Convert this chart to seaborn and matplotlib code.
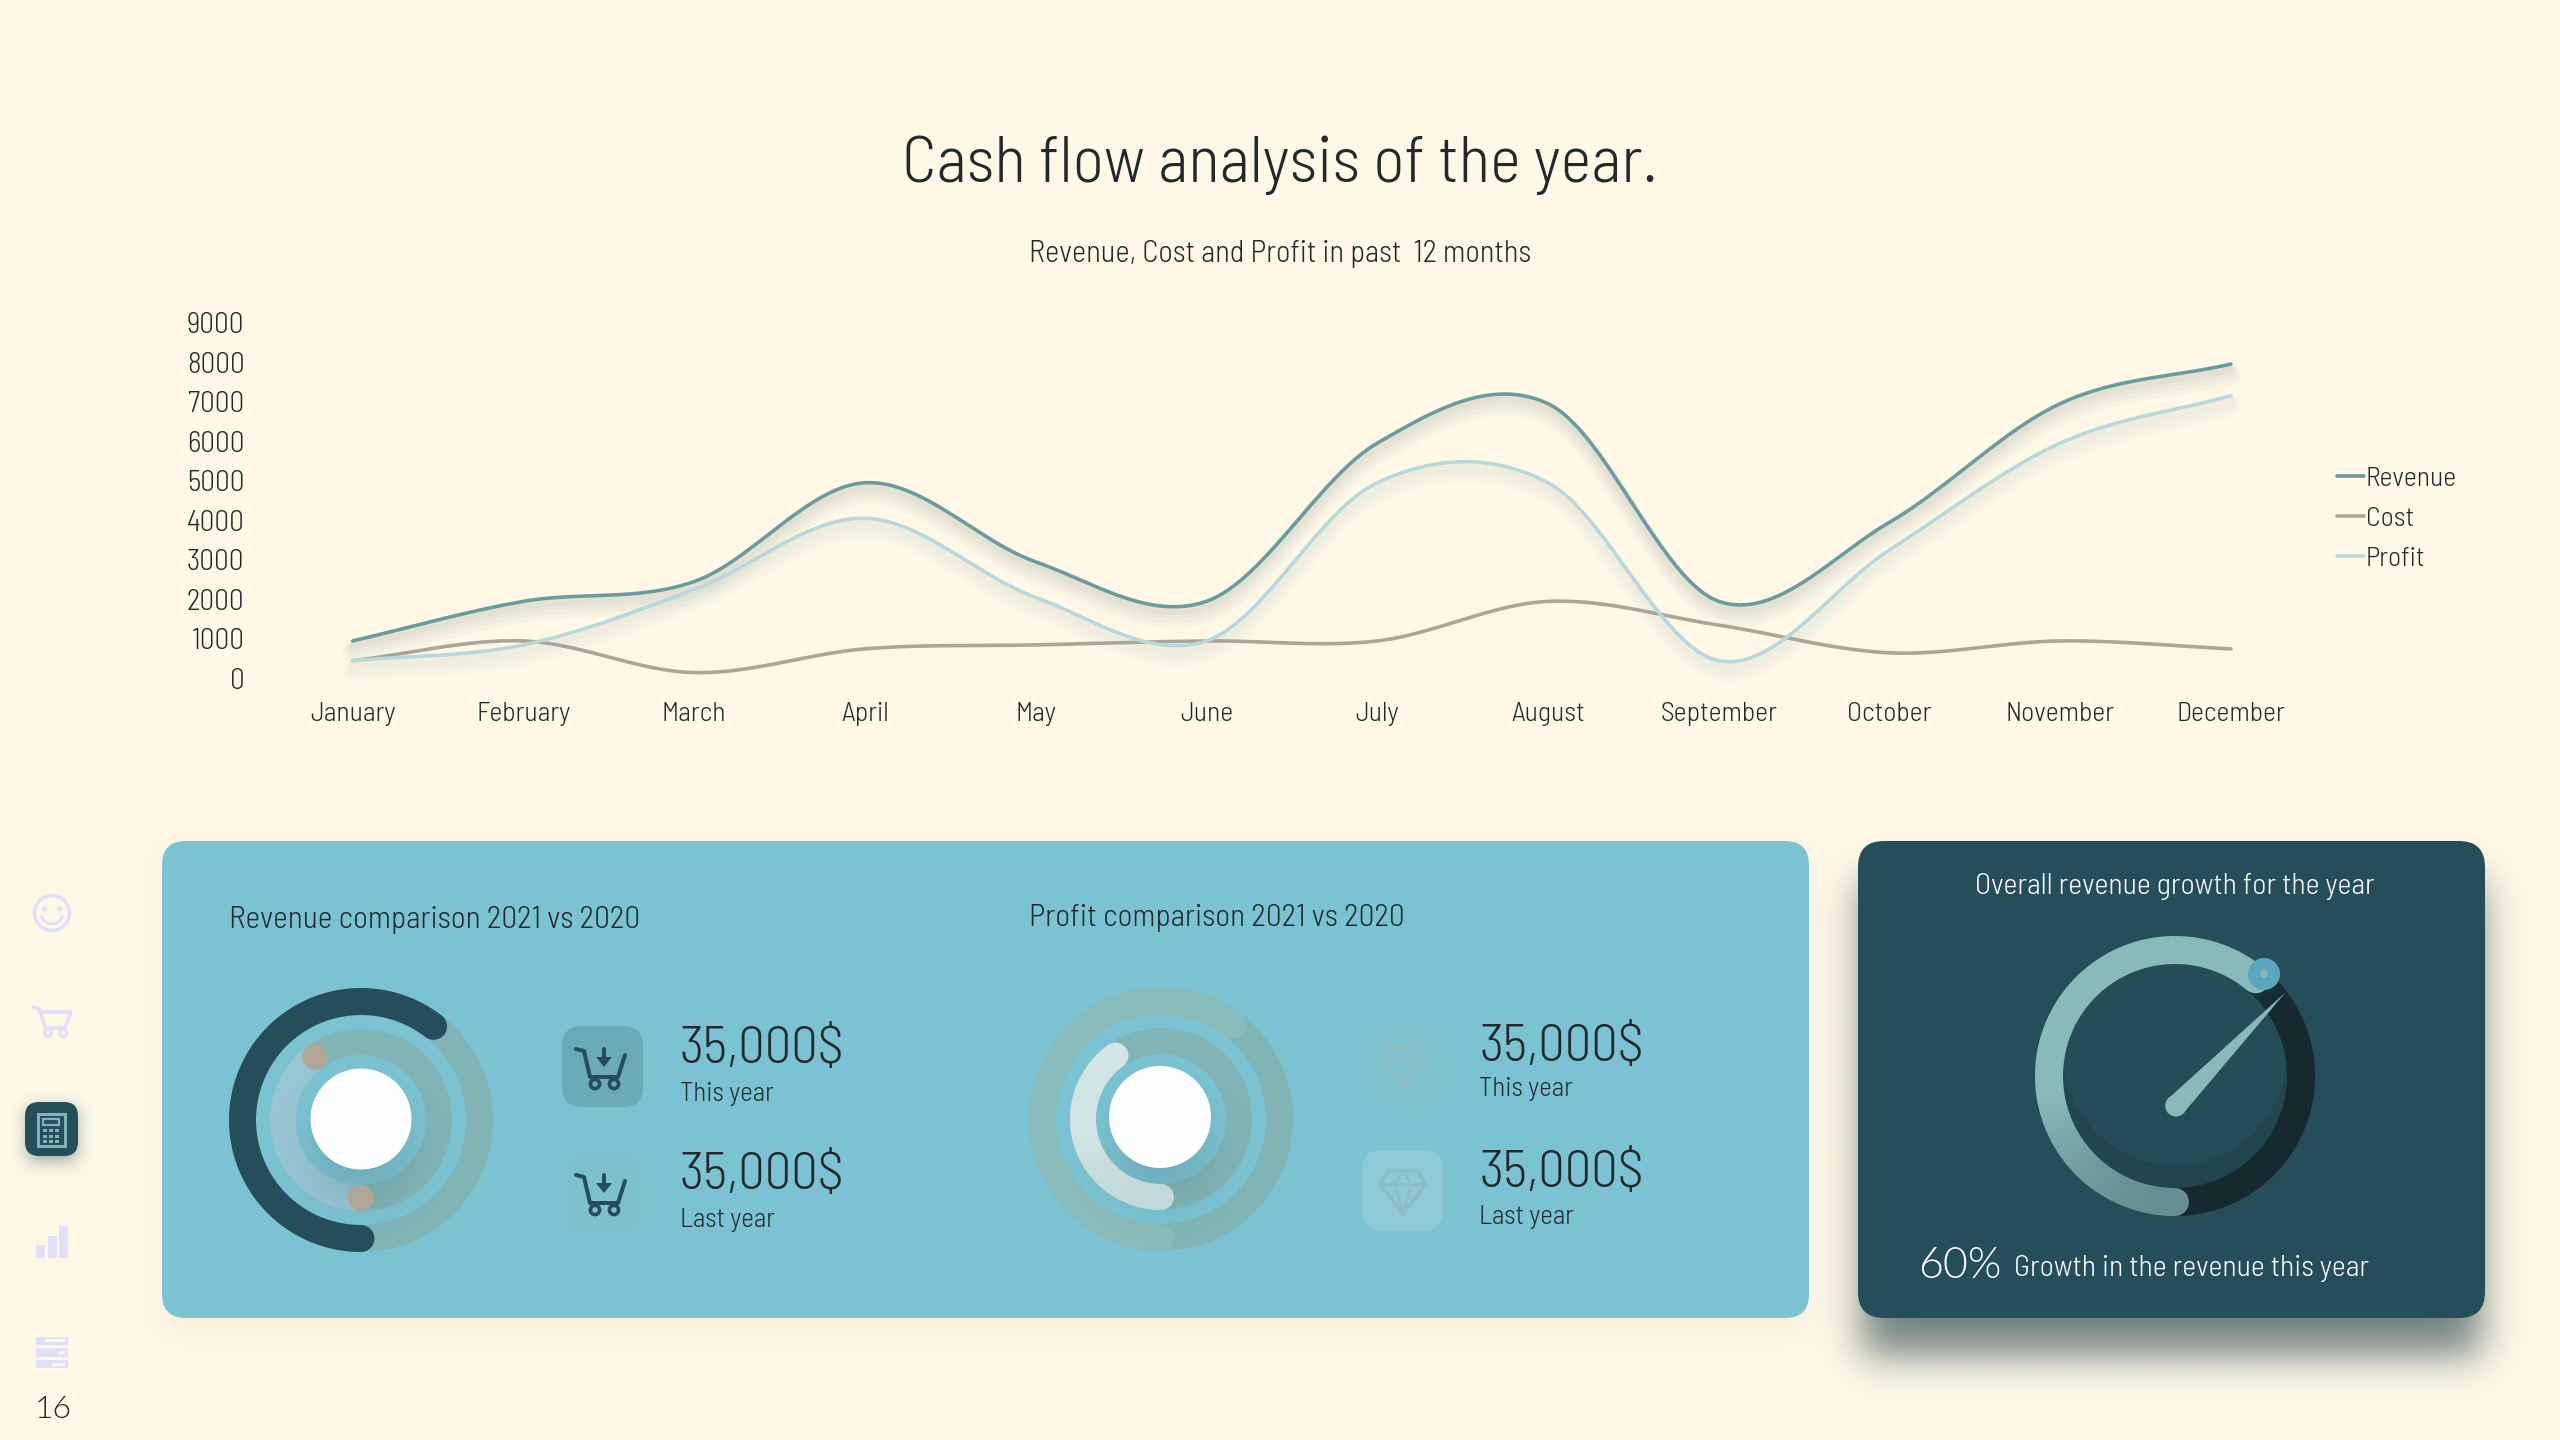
import math
import numpy as np
import pandas as pd
import seaborn as sns
import matplotlib
matplotlib.use("Agg")
import matplotlib.pyplot as plt
import matplotlib.patheffects as pe
from matplotlib.patches import FancyBboxPatch, Circle, Polygon, Rectangle
from matplotlib.transforms import ScaledTranslation

months = ["January", "February", "March", "April", "May", "June", "July",
          "August", "September", "October", "November", "December"]
revenue = [1000, 2000, 2500, 5000, 3000, 2000, 6000, 7000, 2000, 4000, 7000, 8000]
cost = [500, 1000, 200, 800, 900, 1000, 1000, 2000, 1400, 700, 1000, 800]
profit = [500, 900, 2300, 4100, 2100, 1000, 5000, 5000, 500, 3300, 6000, 7200]
y_ticks = [0, 1000, 2000, 3000, 4000, 5000, 6000, 7000, 8000, 9000]
outer_share = 60.5   # percent of the outer ring
inner_share = 40.0   # percent of the inner ring
gauge_share = 61.0
BG = "#FFF8E7"; INK = "#23292B"; TEAL = "#264E5A"; BLUE = "#7BC3D2"
TRACK = "#80B4B5"; LILAC = "#E1DFFA"; GAUGE = "#88BAB9"

sns.set_theme(style="white", rc={"figure.facecolor": BG, "axes.facecolor": "none"})
NARROW = ["Barlow Semi Condensed", "Roboto", "DejaVu Sans"]
LIGHT = ["Lato", "Open Sans", "DejaVu Sans"]
plt.rcParams["font.family"] = NARROW
plt.rcParams["font.weight"] = 300

fig = plt.figure(figsize=(25.6, 14.4), dpi=100, facecolor=BG)
ov = fig.add_axes([0, 0, 1, 1], zorder=1)
ov.set_axis_off()
ov.set_facecolor("none")


def px(w):
    return w * 0.72


verf = np.vectorize(math.erf)


def rgba(color, alpha):
    out = np.zeros(alpha.shape + (4,))
    out[..., :3] = matplotlib.colors.to_rgb(color)
    out[..., 3] = alpha
    return out


def soft_box(x0, y0, x1, y1, sigma, color, amp, z=1):
    m = int(3 * sigma)
    xs = np.arange(x0 - m, x1 + m, 2.0)
    ys = np.arange(y0 - m, y1 + m, 2.0)
    s = sigma * math.sqrt(2)
    fx = (verf((xs - x0) / s) - verf((xs - x1) / s)) / 2
    fy = (verf((ys - y0) / s) - verf((ys - y1) / s)) / 2
    ov.imshow(rgba(color, amp * np.outer(fy, fx)), extent=(xs[0], xs[-1], ys[-1], ys[0]),
              aspect="auto", zorder=z, interpolation="bilinear")


def soft_circle(cx, cy, r, sigma, color, amp, z=4):
    m = r + 3 * sigma
    xs = np.arange(cx - m, cx + m, 2.0)
    ys = np.arange(cy - m, cy + m, 2.0)
    d = np.hypot(*np.meshgrid(xs - cx, ys - cy))
    a = amp * 0.5 * (1 - verf((d - r) / (sigma * math.sqrt(2))))
    ov.imshow(rgba(color, a), extent=(xs[0], xs[-1], ys[-1], ys[0]),
              aspect="auto", zorder=z, interpolation="bilinear")


def card(x0, y0, x1, y1, r, color, z=2):
    ov.add_patch(FancyBboxPatch((x0 + r, y0 + r), x1 - x0 - 2 * r, y1 - y0 - 2 * r,
                                boxstyle=f"round,pad={r},rounding_size={r}",
                                fc=color, ec="none", zorder=z))


def arc(cx, cy, r, w, a0, a1, color, z=3, cap="butt"):
    t = np.radians(np.linspace(a0, a1, 200))
    ov.plot(cx + r * np.sin(t), cy - r * np.cos(t), color=color, lw=px(w),
            solid_capstyle=cap, zorder=z)


def grad_arc(cx, cy, r, w, a0, a1, c_top, c_bot, y_a, y_b, z=3):
    """Arc whose colour shifts with height between y_a and y_b, with round ends."""
    c0, c1 = np.array(matplotlib.colors.to_rgb(c_top)), np.array(matplotlib.colors.to_rgb(c_bot))
    edges = np.linspace(a0, a1, 90)
    for i, (p, q) in enumerate(zip(edges[:-1], edges[1:])):
        tm = math.radians((p + q) / 2)
        f = np.clip((cy - r * math.cos(tm) - y_a) / (y_b - y_a), 0, 1)
        t = np.radians(np.linspace(p, q + 0.3, 4))
        cap = "round" if i in (0, len(edges) - 2) else "butt"
        ov.plot(cx + r * np.sin(t), cy - r * np.cos(t), color=c0 + (c1 - c0) * f,
                lw=px(w), solid_capstyle=cap, zorder=z)


def label(x, y, s, size, color=INK, ha="left", **kw):
    ov.text(x, y, s, fontsize=size, color=color, ha=ha, va="center", zorder=9, **kw)


def cart(dx, dy, color, w=4.0, z=6):
    xs = np.array([576, 584, 590, 618, 625]) + dx
    ys = np.array([1049, 1051, 1077, 1077, 1055]) + dy
    ov.plot(xs, ys, color=color, lw=px(w), solid_joinstyle="round", solid_capstyle="round", zorder=z)
    for wx in (595, 614):
        ov.add_patch(Circle((wx + dx, 1084 + dy), 4.6, fc="none", ec=color, lw=px(3.6), zorder=z))
    ov.plot([604 + dx, 604 + dx], [1049 + dy, 1060 + dy], color=color, lw=px(4), zorder=z)
    ov.add_patch(Polygon([(596 + dx, 1057 + dy), (612 + dx, 1057 + dy), (604 + dx, 1067 + dy)],
                         fc=color, ec="none", zorder=z))


def diamond(cx, top, color, z=6):
    w = 3.4
    lw = px(w)
    bot, mid = top + 43, top + 13
    outline = [(cx - 14, top), (cx + 14, top), (cx + 23, mid), (cx, bot), (cx - 23, mid), (cx - 14, top)]
    ov.plot(*zip(*outline), color=color, lw=lw, solid_joinstyle="miter", zorder=z)
    ov.plot([cx - 23, cx + 23], [mid, mid], color=color, lw=lw, zorder=z)
    for a, b in [((cx - 8, mid), (cx, bot)), ((cx + 8, mid), (cx, bot)),
                 ((cx - 8, mid), (cx, top)), ((cx + 8, mid), (cx, top))]:
        ov.plot([a[0], b[0]], [a[1], b[1]], color=color, lw=px(2.6), zorder=z)


# ---------- Cards ----------
soft_box(162, 850, 1809, 1330, 14, "#C9B68F", 0.16)
card(162, 841, 1809, 1318, 24, BLUE)
soft_box(1861, 880, 2482, 1356, 20, "#27444C", 0.66)
card(1858, 841, 2485, 1318, 26, TEAL)

# ---------- Revenue donut ----------
cx, cy = 361, 1120
arc(cx, cy, 118.5, 27, 0, 360, TRACK)
arc(cx, cy, 78, 26, 0, 360, TRACK)
a_out = 180 + outer_share * 3.6
a_in = 180 + inner_share * 3.6
arc(cx, cy, 78, 26, 180, a_in, "#97C6D3", z=3.2)
soft_circle(cx, cy + 30, 48, 22, "#4D6F78", 0.26)
arc(cx, cy, 118.5, 27, 180, a_out, TEAL, z=5, cap="round")
for a in (180, a_in):
    t = math.radians(a)
    ov.add_patch(Circle((cx + 78 * math.sin(t), cy - 78 * math.cos(t)), 13, fc="#AFA598", ec="none", zorder=5))
ov.add_patch(Circle((cx, cy - 1), 50.5, fc="#FDFEFF", ec="none", zorder=6))

# ---------- Profit donut ----------
cx, cy = 1161, 1119
arc(cx, cy, 118.5, 27, 0, 360, TRACK)
arc(cx, cy, 118.5, 27, 180, a_out, "#89BBBB", z=3.1, cap="round")
arc(cx, cy, 78, 26, 0, 360, TRACK)
soft_circle(cx, cy + 30, 48, 22, "#4D6F78", 0.26)
grad_arc(cx, cy, 78, 26, 180, a_in, "#D3E6E5", "#C4D9D9", 1130, 1195, z=5)
ov.add_patch(Circle((cx - 1, cy - 2), 51, fc="#FDFEFF", ec="none", zorder=6))

# ---------- Small tiles ----------
card(562, 1026, 643, 1107, 20, "#6BAAB8", z=3)
card(562, 1153, 643, 1233, 20, "#7FC0CE", z=3)
cart(0, 0, TEAL)
cart(0, 126, TEAL)
card(1362, 1024, 1443, 1105, 20, "#7EC2CE", z=3)
card(1362, 1150, 1443, 1231, 20, "#8DCAD6", z=3)
diamond(1403, 1045, "#8FBDBF")
diamond(1403, 1171, "#8FBDBF")

# ---------- Gauge ----------
cx, cy = 2175, 1076
ov.add_patch(Circle((cx, cy), 113, fc="#224650", ec="none", zorder=3))
ov.add_patch(Circle((cx, cy - 23), 112, fc="#254D58", ec="none", zorder=3.1))
soft_circle(cx, cy, 60, 6, "#264E5A", 0.6, z=3.2)
a_g = 180 + gauge_share * 3.6
grad_arc(cx, cy, 126, 28, a_g - 360, 180, "#1E3841", "#15292F", 960, 1010, z=3.5)
grad_arc(cx, cy, 126, 28, 180, a_g, "#658D91", GAUGE, 1205, 1095, z=4)
ov.add_patch(Circle((2264, 974), 16, fc="#5BA6BE", ec="none", zorder=5))
ov.add_patch(Circle((2264, 974), 4, fc="#86B8BE", ec="none", zorder=5.1))
tip = np.array([2285.4, 992.5])
base = np.array([2176.0, 1105.7])
axis = (tip - base) / np.hypot(*(tip - base))
normal = np.array([-axis[1], axis[0]])
ov.add_patch(Polygon([tip, base + normal * 10.5, base - normal * 10.5], fc=GAUGE, ec="none", zorder=6))
ov.add_patch(Circle(base, 10.8, fc=GAUGE, ec="none", zorder=6))

# ---------- Side menu ----------
ov.add_patch(Circle((52, 913), 17.5, fc="none", ec=LILAC, lw=px(3.5), zorder=3))
ov.add_patch(Circle((44.5, 909), 2.6, fc=LILAC, ec="none", zorder=3))
ov.add_patch(Circle((59.5, 909), 2.6, fc=LILAC, ec="none", zorder=3))
t = np.radians(np.linspace(110, 250, 40))
ov.plot(52 + 11 * np.sin(t), 913 - 11 * np.cos(t), color=LILAC, lw=px(3), zorder=3)
ov.plot([33, 40, 45, 65, 71, 39], [1007, 1009, 1028, 1028, 1012, 1012], color=LILAC, lw=px(3.5),
        solid_joinstyle="round", zorder=3)
for wx in (48, 63):
    ov.add_patch(Circle((wx, 1033), 3.6, fc="none", ec=LILAC, lw=px(3), zorder=3))
soft_box(28, 1108, 76, 1160, 9, "#264E5A", 0.55)
card(25, 1102, 78, 1156, 14, TEAL)
ICON = "#7FB5B5"
ov.add_patch(Rectangle((37.5, 1113.5), 27, 32, fc="none", ec=ICON, lw=px(3), zorder=4))
ov.add_patch(Rectangle((43, 1119), 16, 5.5, fc="none", ec=ICON, lw=px(2.2), zorder=4))
for kx in (45, 51, 57):
    for ky in (1130, 1136, 1141):
        ov.add_patch(Rectangle((kx - 1.7, ky - 1.5), 3.4, 3, fc=ICON, ec="none", zorder=4))
for x0, x1, y0 in [(36, 45, 1245), (48, 57, 1235.5), (59, 68, 1226)]:
    ov.add_patch(Rectangle((x0, y0), x1 - x0, 1258 - y0, fc=LILAC, ec="none", zorder=3))
for y0, y1, nx0, ny in [(1336.5, 1345, 45, 1340), (1348, 1357, 59, 1352.4), (1360, 1368, 52, 1364)]:
    ov.add_patch(Rectangle((36, y0), 32, y1 - y0, fc=LILAC, ec="none", zorder=3))
    ov.add_patch(Rectangle((nx0, ny - 1.5), 65 - nx0, 3, fc=BG, ec="none", zorder=3.1))

ov.set_xlim(0, 2560)
ov.set_ylim(1440, 0)

# ---------- Text ----------
label(1280, 165, "Cash flow analysis of the year.", 47.5, ha="center")
label(1280, 254, "Revenue, Cost and Profit in past  12 months", 22, ha="center")
label(229, 920, "Revenue comparison 2021 vs 2020", 22.6)
label(1029, 918, "Profit comparison 2021 vs 2020", 22.6)
label(680, 1050, "35,000$", 38)
label(680, 1094, "This year", 19.5)
label(680, 1176, "35,000$", 38)
label(680, 1220, "Last year", 19.5)
label(1479, 1048, "35,000$", 38)
label(1479, 1089, "This year", 19.5)
label(1479, 1174, "35,000$", 38)
label(1479, 1217, "Last year", 19.5)
label(2175, 887, "Overall revenue growth for the year", 21.6, color="white", ha="center")
label(1918, 1266, "60%", 31, color="white", family=LIGHT, fontweight=300)
label(2014, 1269, "Growth in the revenue this year", 21.6, color="white")
label(53, 1409, "16", 23, ha="center", family=LIGHT, fontweight=300)


# ---------- Line chart ----------
def smooth(values, n=24):
    """Catmull-Rom rendering of the monthly values so the line draws as a curve."""
    v = np.array(values, float)
    m = np.gradient(v)
    u = np.linspace(0, 1, n, endpoint=False)
    h00, h10 = 2 * u**3 - 3 * u**2 + 1, u**3 - 2 * u**2 + u
    h01, h11 = -2 * u**3 + 3 * u**2, u**3 - u**2
    ys = [h00 * v[i] + h10 * m[i] + h01 * v[i + 1] + h11 * m[i + 1] for i in range(len(v) - 1)]
    xs = [i + u for i in range(len(v) - 1)]
    return np.r_[np.concatenate(xs), len(v) - 1], np.r_[np.concatenate(ys), v[-1]]


frames = []
for name, vals in [("Revenue", revenue), ("Cost", cost), ("Profit", profit)]:
    xs, ys = smooth(vals)
    frames.append(pd.DataFrame({"month": xs, "value": ys, "series": name}))
df = pd.concat(frames, ignore_index=True)

L, R, T, B = 352.6, 2231.0, 324.5, 680.5
ax = fig.add_axes([L / 2560, 1 - B / 1440, (R - L) / 2560, (B - T) / 1440], zorder=2)
palette = {"Revenue": "#6A9C9E", "Cost": "#AEA599", "Profit": "#B8D8DC"}
sns.lineplot(data=df, x="month", y="value", hue="series", palette=palette, estimator=None,
             sort=False, linewidth=px(3.6), ax=ax)
ax.set_xlim(0, 11)
ax.set_ylim(0, 9000)
ax.set_xticks(range(12), months)
ax.set_yticks(y_ticks)
ax.set_xlabel("")
ax.set_ylabel("")
ax.tick_params(axis="x", length=0, pad=px(22), labelsize=20, labelcolor=INK)
ax.tick_params(axis="y", length=0, pad=px(108), labelsize=21, labelcolor=INK)
nudge = ScaledTranslation(0, 2 / 100, fig.dpi_scale_trans)
for lbl in ax.get_yticklabels():
    lbl.set_transform(lbl.get_transform() + nudge)
sns.despine(ax=ax, left=True, bottom=True)
shadow_colors = {0: ("#50686A", 1.0), 1: ("#AEA599", 0.0), 2: ("#8DB8BC", 0.9)}
for i, line in enumerate(ax.lines[:3]):
    col, k = shadow_colors[i]
    line.set_clip_on(False)
    fx = [pe.Stroke(offset=(0, -px(w) * 0.6 * 100 / 72 / 2 - 2), linewidth=px(w), foreground=col, alpha=0.04 * k)
          for w in (20, 15, 10, 6)] if k else []
    line.set_path_effects(fx + [pe.Normal()])
sns.move_legend(ax, "center left", bbox_to_anchor=((2337 - L) / (R - L), (B - 518.5) / (B - T)),
                title=None, frameon=False, fontsize=20, handlelength=0.98,
                handletextpad=0.06, labelspacing=0.56, borderaxespad=0, borderpad=0)
for txt in ax.get_legend().get_texts():
    txt.set_color(INK)

fig.savefig("out.png", dpi=100, facecolor=BG)
